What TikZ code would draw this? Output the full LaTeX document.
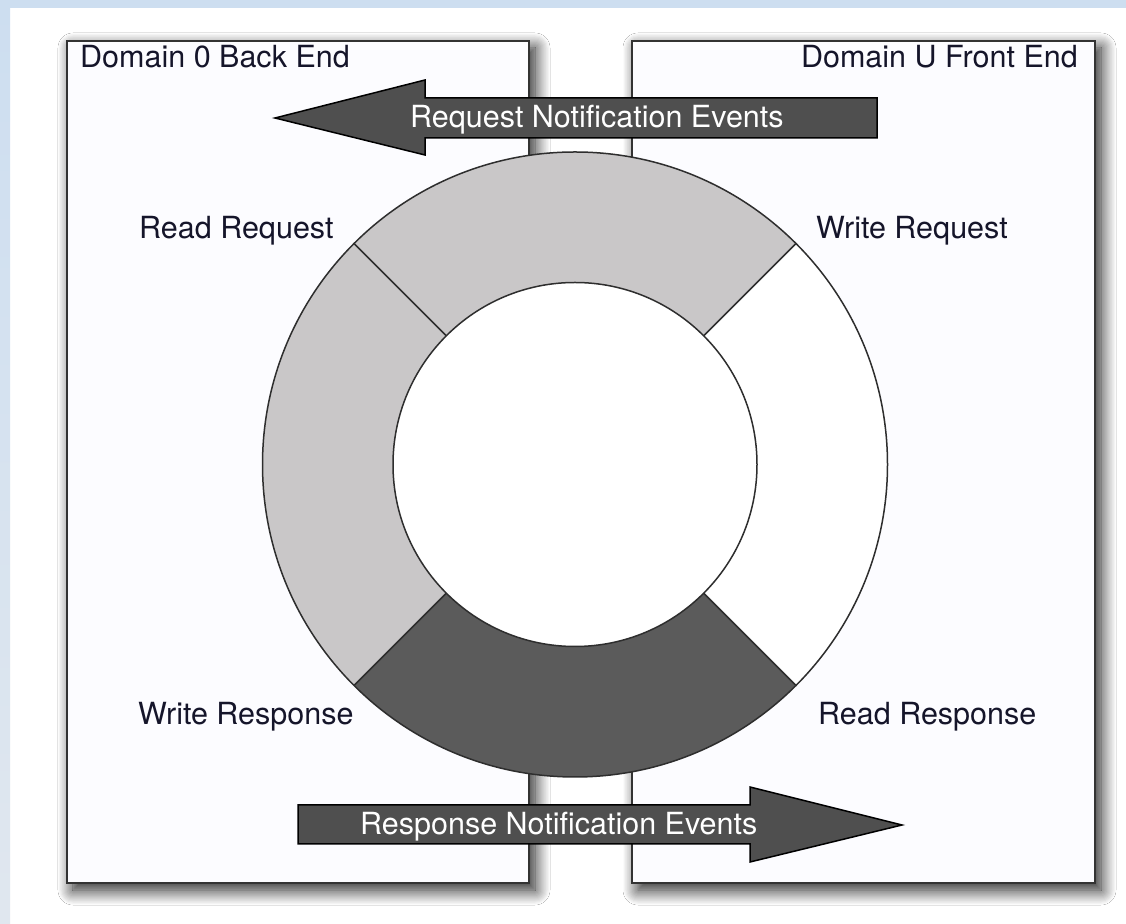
\documentclass[tikz,border=0pt]{standalone}
\usepackage{fontspec}
\setmainfont{TeX Gyre Heros}
\usetikzlibrary{shadows.blur}

\definecolor{bgblue}{HTML}{CDDEF0}
\definecolor{bgblueB}{HTML}{E0E7EF}
\definecolor{panelfill}{HTML}{FCFCFF}
\definecolor{panelline}{HTML}{333333}
\definecolor{seglight}{HTML}{C9C7C8}
\definecolor{segdark}{HTML}{5B5B5B}
\definecolor{arrowfill}{HTML}{4F4F4F}
\definecolor{labeltext}{HTML}{15152A}
\definecolor{ringline}{HTML}{2E2E2E}

\begin{document}
\begin{tikzpicture}[x=1bp,y=1bp,
  panel/.style={draw=panelline, line width=1.5bp, fill=panelfill,
    minimum height=842bp, inner sep=0pt,
    blur shadow={shadow xshift=6bp, shadow yshift=-7bp,
      shadow blur radius=15bp, shadow blur steps=14, shadow opacity=90}},
  lbl/.style={inner sep=0pt, text=labeltext,
    font=\fontsize{30.5bp}{36bp}\selectfont},
  arrowtext/.style={lbl, text=white},
  eventarrow/.style={fill=arrowfill, draw=black, line width=1.5bp, line join=miter},
  ringedge/.style={draw=ringline, line width=1.5bp}
]
\useasboundingbox (0,0) rectangle (1126,924);

% page background with the bluish frame on the left and top
\fill[white] (0,0) rectangle (1126,924);
\shade[top color=bgblue, bottom color=bgblueB] (0,0) rectangle (10,924);
\fill[bgblue] (0,916) rectangle (1126,924);

% the two domains
\node[panel, minimum width=462bp] (dom0) at (298,462) {};
\node[panel, minimum width=463bp] (domU) at (863.5,462) {};
\node[lbl, anchor=base west] (dom0title) at (80,856) {Domain 0 Back End};
\node[lbl, anchor=base east] (domUtitle) at (1078,856) {Domain U Front End};

% shared ring buffer
\coordinate (ringc) at (575,459.5);
\begin{scope}[shift={(ringc)}]
  \fill[seglight] (45:312.5) arc[start angle=45, end angle=135, radius=312.5]
    -- (135:182) arc[start angle=135, end angle=45, radius=182] -- cycle;
  \fill[seglight] (135:312.5) arc[start angle=135, end angle=225, radius=312.5]
    -- (225:182) arc[start angle=225, end angle=135, radius=182] -- cycle;
  \fill[segdark] (225:312.5) arc[start angle=225, end angle=315, radius=312.5]
    -- (315:182) arc[start angle=315, end angle=225, radius=182] -- cycle;
  \fill[white] (315:312.5) arc[start angle=315, end angle=405, radius=312.5]
    -- (45:182) arc[start angle=45, end angle=-45, radius=182] -- cycle;
  \draw[ringedge] (0,0) circle[radius=312.5];
  \draw[ringedge, fill=white] (0,0) circle[radius=182];
  \foreach \a in {45,135,225,315}
    \draw[ringedge] (\a:182) -- (\a:312.5);
\end{scope}

% ring slot labels
\node[lbl, anchor=base west] (rdreq) at (139,685) {Read Request};
\node[lbl, anchor=base west] (wrreq) at (816,685) {Write Request};
\node[lbl, anchor=base west] (wrresp) at (138,199) {Write Response};
\node[lbl, anchor=base west] (rdresp) at (818,199) {Read Response};

% notification arrows
\draw[eventarrow] (275,806) -- (425,844) -- (425,826) -- (877,826)
  -- (877,786) -- (425,786) -- (425,769) -- cycle;
\node[arrowtext, anchor=base west] (reqev) at (410,796) {Request Notification Events};

\draw[eventarrow] (298,119) -- (750,119) -- (750,137) -- (902,99)
  -- (750,62) -- (750,80) -- (298,80) -- cycle;
\node[arrowtext, anchor=base west] (respev) at (360,89) {Response Notification Events};
\end{tikzpicture}
\end{document}
